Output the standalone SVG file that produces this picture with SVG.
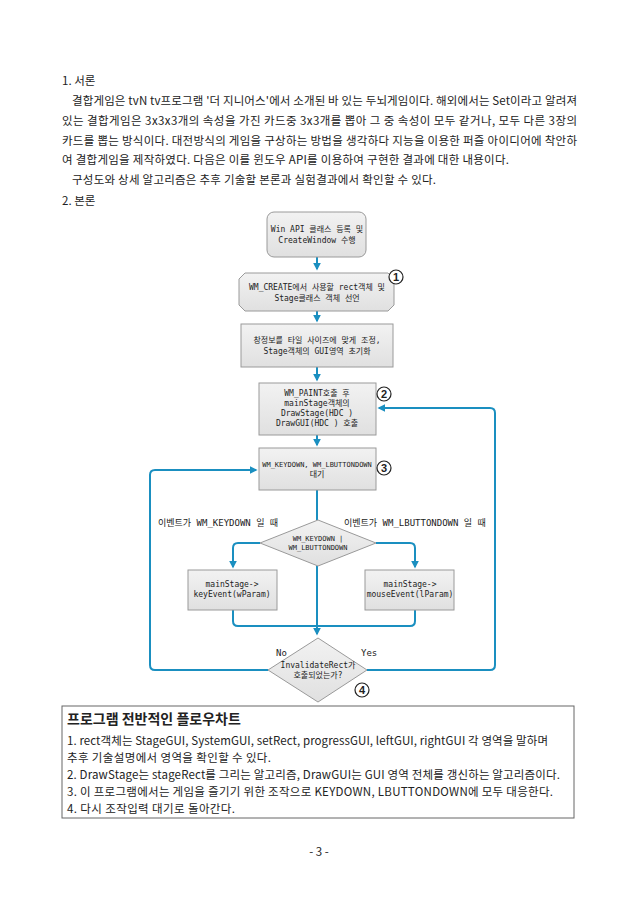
<svg xmlns="http://www.w3.org/2000/svg" width="638" height="903" viewBox="0 0 638 903">
<style>
.t{font-family:"Noto Sans CJK KR","Noto Sans",sans-serif;font-size:11.5px;fill:#222}
.m{font-family:"DejaVu Sans Mono","Noto Sans CJK KR",monospace;font-size:8px;fill:#222;text-anchor:middle}
.l{font-family:"DejaVu Sans Mono","Noto Sans CJK KR",monospace;font-size:9px;fill:#222}
.b{fill:url(#g);stroke:#9a9a9a;stroke-width:1}
.c{stroke:#1a8fc0;stroke-width:2;fill:none}
.n{fill:#fff;stroke:#222;stroke-width:1.2}
.nt{font-family:"Liberation Sans",sans-serif;font-size:11px;font-weight:bold;text-anchor:middle;fill:#222}
</style>
<defs>
<linearGradient id="g" x1="0" y1="0" x2="0" y2="1"><stop offset="0" stop-color="#f2f2f2"/><stop offset="1" stop-color="#e0e0e0"/></linearGradient>
<marker id="a" viewBox="0 0 10 10" refX="8" refY="5" markerWidth="4" markerHeight="4" orient="auto"><path d="M0,0 L10,5 L0,10 z" fill="#1a8fc0"/></marker>
</defs>
<rect width="638" height="903" fill="#fff"/>
<text class="t" x="62" y="85">1. 서론</text>
<text class="t" x="72" y="105" textLength="505" lengthAdjust="spacing">결합게임은 tvN tv프로그램 '더 지니어스'에서 소개된 바 있는 두뇌게임이다. 해외에서는 Set이라고 알려져</text>
<text class="t" x="62" y="125" textLength="515" lengthAdjust="spacing">있는 결합게임은 3x3x3개의 속성을 가진 카드중 3x3개를 뽑아 그 중 속성이 모두 같거나, 모두 다른 3장의</text>
<text class="t" x="62" y="145" textLength="515" lengthAdjust="spacing">카드를 뽑는 방식이다. 대전방식의 게임을 구상하는 방법을 생각하다 지능을 이용한 퍼즐 아이디어에 착안하</text>
<text class="t" x="62" y="164" textLength="447" lengthAdjust="spacing">여 결합게임을 제작하였다. 다음은 이를 윈도우 API를 이용하여 구현한 결과에 대한 내용이다.</text>
<text class="t" x="72" y="184" textLength="364" lengthAdjust="spacing">구성도와 상세 알고리즘은 추후 기술할 본론과 실험결과에서 확인할 수 있다.</text>
<text class="t" x="62" y="205">2. 본론</text>

<g id="connectors">
<path class="c" d="M317,257 V269" marker-end="url(#a)"/>
<path class="c" d="M317,311 V321" marker-end="url(#a)"/>
<path class="c" d="M317,367 V380" marker-end="url(#a)"/>
<path class="c" d="M317,435 V445" marker-end="url(#a)"/>
<path class="c" d="M317,490 V520"/>
<path class="c" d="M260,543 H238 Q233,543 233,548 V567" marker-end="url(#a)"/>
<path class="c" d="M376,543 H410 Q415,543 415,548 V567" marker-end="url(#a)"/>
<path class="c" d="M317,566 V634" marker-end="url(#a)"/>
<path class="c" d="M233,610 V621 Q233,626 238,626 H410 Q415,626 415,621 V610"/>
<path class="c" d="M268,670 H155 Q150,670 150,665 V475 Q150,470 155,470 H256" marker-end="url(#a)"/>
<path class="c" d="M367,670 H490 Q495,670 495,665 V413 Q495,408 490,408 H379" marker-end="url(#a)"/>
</g>

<g id="n1"><rect class="b" x="267" y="212" width="99" height="45" rx="7"/>
<text class="m" x="317" y="232">Win API 클래스 등록 및</text><text class="m" x="317" y="243">CreateWindow 수행</text></g>
<g id="n2"><path class="b" d="M245,273 H388 L394,279 V305 L388,311 H245 L239,305 V279 z"/>
<text class="m" x="317" y="290">WM_CREATE에서 사용할 rect객체 및</text><text class="m" x="317" y="301">Stage클래스 객체 선언</text>
<circle class="n" cx="396" cy="277" r="7"/><text class="nt" x="396" y="281">1</text></g>
<g id="n3"><rect class="b" x="241" y="324" width="152" height="43"/>
<text class="m" x="317" y="343">창정보를 타일 사이즈에 맞게 조정,</text><text class="m" x="317" y="354">Stage객체의 GUI영역 초기화</text></g>
<g id="n4"><rect class="b" x="259" y="383" width="117" height="52"/>
<text class="m" x="317" y="396">WM_PAINT호출 후</text><text class="m" x="317" y="406">mainStage객체의</text><text class="m" x="317" y="416">DrawStage(HDC )</text><text class="m" x="317" y="426">DrawGUI(HDC ) 호출</text>
<circle class="n" cx="384" cy="394" r="7"/><text class="nt" x="384" y="398">2</text></g>
<g id="n5"><rect class="b" x="259" y="448" width="117" height="42"/>
<text class="m" x="317" y="467" style="font-size:7px">WM_KEYDOWN, WM_LBUTTONDOWN</text><text class="m" x="317" y="477">대기</text>
<circle class="n" cx="384" cy="468" r="7"/><text class="nt" x="384" y="472">3</text></g>
<text class="l" x="158" y="526">이벤트가 WM_KEYDOWN 일 때</text>
<text class="l" x="344" y="526">이벤트가 WM_LBUTTONDOWN 일 때</text>
<g id="d1"><path class="b" d="M318,520 L376,543 L318,566 L260,543 z"/>
<text class="m" x="318" y="541" style="font-size:7px">WM_KEYDOWN |</text><text class="m" x="318" y="550" style="font-size:7px">WM_LBUTTONDOWN</text></g>
<g id="n6"><rect class="b" x="188" y="570" width="89" height="40"/>
<text class="m" x="232" y="587">mainStage-&gt;</text><text class="m" x="232" y="597">keyEvent(wParam)</text></g>
<g id="n7"><rect class="b" x="365" y="570" width="89" height="40"/>
<text class="m" x="410" y="587">mainStage-&gt;</text><text class="m" x="410" y="597">mouseEvent(lParam)</text></g>
<g id="d2"><path class="b" d="M318,638 L367,670 L318,702 L268,670 z"/>
<text class="m" x="318" y="668">InvalidateRect가</text><text class="m" x="318" y="678">호출되었는가?</text>
<circle class="n" cx="362" cy="690" r="7"/><text class="nt" x="362" y="694">4</text></g>
<text class="l" x="276" y="656">No</text><text class="l" x="361" y="656">Yes</text>

<rect x="62" y="706" width="512" height="112" fill="#fff" stroke="#666" stroke-width="1"/>
<text class="t" x="67" y="724" style="font-size:14px;font-weight:bold">프로그램 전반적인 플로우차트</text>
<text class="t" x="67" y="745" textLength="481" lengthAdjust="spacing">1. rect객체는 StageGUI, SystemGUI, setRect, progressGUI, leftGUI, rightGUI 각 영역을 말하며</text>
<text class="t" x="67" y="762" textLength="204" lengthAdjust="spacing">추후 기술설명에서 영역을 확인할 수 있다.</text>
<text class="t" x="67" y="779" textLength="493" lengthAdjust="spacing">2. DrawStage는 stageRect를 그리는 알고리즘, DrawGUI는 GUI 영역 전체를 갱신하는 알고리즘이다.</text>
<text class="t" x="67" y="796" textLength="486" lengthAdjust="spacing">3. 이 프로그램에서는 게임을 즐기기 위한 조작으로 KEYDOWN, LBUTTONDOWN에 모두 대응한다.</text>
<text class="t" x="67" y="813" textLength="168" lengthAdjust="spacing">4. 다시 조작입력 대기로 돌아간다.</text>
<text class="t" x="319" y="856" text-anchor="middle">- 3 -</text>
</svg>
